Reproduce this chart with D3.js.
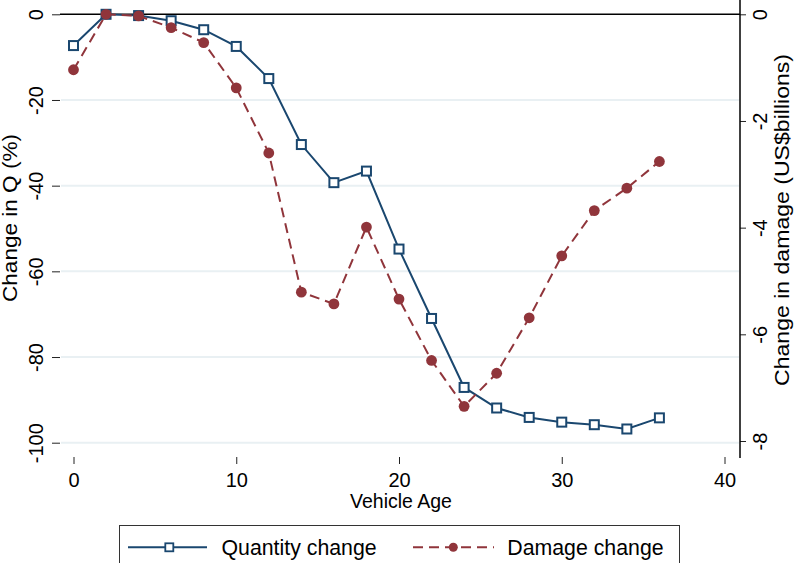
<!DOCTYPE html>
<html>
<head>
<meta charset="utf-8">
<script src="https://cdn.jsdelivr.net/npm/d3@7"></script>
<style>
  body { margin: 0; background: #fff; }
  svg { display: block; font-family: "Liberation Sans", Arial, sans-serif; }
  .axis text { fill: #000; }
  .axis line { stroke: #222; stroke-width: 1; }
</style>
</head>
<body>
<div id="chart"></div>
<script>
/* Vehicle age (x) */
const ages = [0, 2, 4, 6, 8, 10, 12, 14, 16, 18, 20, 22, 24, 26, 28, 30, 32, 34, 36];
/* Change in quantity (%) - left axis */
const qtyChange = [-7.3, 0, -0.3, -1.5, -3.6, -7.5, -15.0, -30.4, -39.3, -36.6,
  -54.8, -71.0, -87.1, -91.9, -94.1, -95.2, -95.8, -96.8, -94.2];
/* Change in damage (US$ billions) - right axis */
const dmgChange = [-1.04, 0, -0.03, -0.25, -0.53, -1.38, -2.60, -5.21, -5.43, -3.99,
  -5.34, -6.49, -7.35, -6.73, -5.69, -4.53, -3.68, -3.26, -2.76];

const xTicks = [0, 10, 20, 30, 40];
const leftTicks = [0, -20, -40, -60, -80, -100];
const rightTicks = [0, -2, -4, -6, -8];
const legendLabels = ["Quantity change", "Damage change"];

const navy = "#1a476f";
const maroon = "#90353b";

/* plain hyphen for negatives, like the original */
const fmt = function (d) { return String(d); };

let ch = {};
ch.width = 795;
ch.height = 563;

ch.svg = d3.select("#chart").append("svg")
  .attr("width", ch.width)
  .attr("height", ch.height);

/* scales */
ch.x = d3.scaleLinear().domain([0, 40]).range([73.5, 724.5]);
ch.yL = d3.scaleLinear().domain([-100, 0]).range([442.7, 14.3]);
ch.yR = d3.scaleLinear().domain([-8, 0]).range([441, 14.3]);
ch.left = 60;
ch.right = 740;

/* gridlines */
ch.svg.append("g").selectAll("line")
  .data(leftTicks.filter(function (t) { return t !== 0; }))
  .enter().append("line")
  .attr("x1", ch.left + 1)
  .attr("x2", ch.right - 1)
  .attr("y1", function (t) { return ch.yL(t); })
  .attr("y2", function (t) { return ch.yL(t); })
  .style("stroke", "#e9f0f3")
  .style("stroke-width", 2);

/* zero line */
ch.svg.append("line")
  .attr("x1", ch.left)
  .attr("x2", ch.right)
  .attr("y1", ch.yL(0))
  .attr("y2", ch.yL(0))
  .style("stroke", "#000")
  .style("stroke-width", 1.5);

/* left axis */
ch.svg.append("g")
  .attr("class", "axis")
  .attr("transform", "translate(" + ch.left + ",0)")
  .call(d3.axisLeft(ch.yL).tickValues(leftTicks).tickSize(8).tickFormat(fmt))
  .call(function (g) { g.select(".domain").remove(); })
  .selectAll("text")
  .attr("x", null).attr("dy", null)
  .attr("text-anchor", "middle")
  .attr("transform", "translate(-17.3,0) rotate(-90)")
  .style("font-size", "20px");

/* right axis */
ch.svg.append("g")
  .attr("class", "axis")
  .attr("transform", "translate(" + ch.right + ",0)")
  .call(d3.axisRight(ch.yR).tickValues(rightTicks).tickSize(6).tickFormat(fmt))
  .call(function (g) { g.select(".domain").remove(); })
  .selectAll("text")
  .attr("x", null).attr("dy", null)
  .attr("text-anchor", "middle")
  .attr("transform", "translate(26.7,0) rotate(-90)")
  .style("font-size", "20px");

ch.svg.append("line")
  .attr("x1", ch.right).attr("x2", ch.right)
  .attr("y1", 0).attr("y2", 458)
  .style("stroke", "#000")
  .style("stroke-width", 1.5);

/* bottom axis */
ch.svg.append("g")
  .attr("class", "axis")
  .attr("transform", "translate(0,457)")
  .call(d3.axisBottom(ch.x).tickValues(xTicks).tickSize(7).tickFormat(fmt))
  .call(function (g) { g.select(".domain").remove(); })
  .selectAll("text")
  .attr("y", 29.5).attr("dy", null)
  .style("font-size", "20px");

/* axis titles */
ch.svg.append("text")
  .attr("x", 401).attr("y", 508)
  .attr("text-anchor", "middle")
  .style("font-size", "19.5px")
  .text("Vehicle Age");

ch.svg.append("text")
  .attr("transform", "translate(17,218) rotate(-90)")
  .attr("text-anchor", "middle")
  .attr("textLength", 168)
  .attr("lengthAdjust", "spacingAndGlyphs")
  .style("font-size", "19.5px")
  .text("Change in Q (%)");

ch.svg.append("text")
  .attr("transform", "translate(789,220) rotate(-90)")
  .attr("text-anchor", "middle")
  .attr("textLength", 332)
  .attr("lengthAdjust", "spacingAndGlyphs")
  .style("font-size", "19.5px")
  .text("Change in damage (US$billions)");

/* quantity series */
ch.qLine = d3.line()
  .x(function (d, i) { return ch.x(ages[i]); })
  .y(function (d) { return ch.yL(d); });

ch.svg.append("path")
  .datum(qtyChange)
  .attr("d", ch.qLine)
  .style("fill", "none")
  .style("stroke", navy)
  .style("stroke-width", 2);

ch.svg.append("g").selectAll("rect")
  .data(qtyChange)
  .enter().append("rect")
  .attr("x", function (d, i) { return ch.x(ages[i]) - 4.5; })
  .attr("y", function (d) { return ch.yL(d) - 4.5; })
  .attr("width", 9)
  .attr("height", 9)
  .style("fill", "#fff")
  .style("stroke", navy)
  .style("stroke-width", 2);

/* damage series */
ch.dLine = d3.line()
  .x(function (d, i) { return ch.x(ages[i]); })
  .y(function (d) { return ch.yR(d); });

ch.svg.append("path")
  .datum(dmgChange)
  .attr("d", ch.dLine)
  .style("fill", "none")
  .style("stroke", maroon)
  .style("stroke-width", 2)
  .style("stroke-dasharray", "10,6");

ch.svg.append("g").selectAll("circle")
  .data(dmgChange)
  .enter().append("circle")
  .attr("cx", function (d, i) { return ch.x(ages[i]); })
  .attr("cy", function (d) { return ch.yR(d); })
  .attr("r", 5.4)
  .style("fill", maroon);

/* legend */
ch.lg = ch.svg.append("g");
ch.lg.append("rect")
  .attr("x", 119.5).attr("y", 525.5)
  .attr("width", 560).attr("height", 50)
  .style("fill", "#fff")
  .style("stroke", "#333")
  .style("stroke-width", 1);

ch.lg.append("line")
  .attr("x1", 128).attr("x2", 207).attr("y1", 547.3).attr("y2", 547.3)
  .style("stroke", navy).style("stroke-width", 2);
ch.lg.append("rect")
  .attr("x", 165.3).attr("y", 543.3).attr("width", 8).attr("height", 8)
  .style("fill", "#fff").style("stroke", navy).style("stroke-width", 1.8);
ch.lg.append("text")
  .attr("x", 221.5).attr("y", 555)
  .style("font-size", "21.3px")
  .text(legendLabels[0]);

ch.lg.append("line")
  .attr("x1", 413).attr("x2", 494).attr("y1", 547.3).attr("y2", 547.3)
  .style("stroke", maroon).style("stroke-width", 2)
  .style("stroke-dasharray", "10,6");
ch.lg.append("circle")
  .attr("cx", 453.3).attr("cy", 547.3).attr("r", 4.5)
  .style("fill", maroon);
ch.lg.append("text")
  .attr("x", 507.3).attr("y", 555)
  .style("font-size", "21.3px")
  .text(legendLabels[1]);
</script>
</body>
</html>
